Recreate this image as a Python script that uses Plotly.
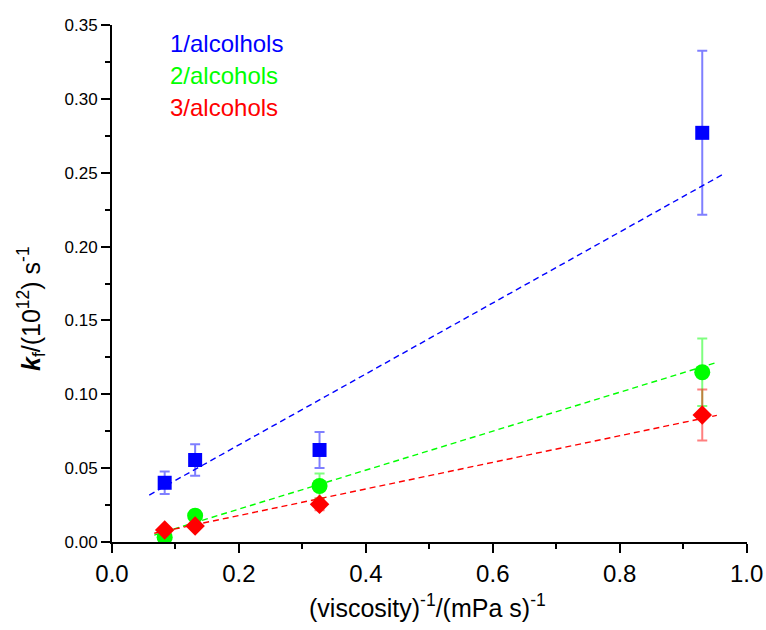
import plotly.graph_objects as go

# data
x_vals = [0.083, 0.131, 0.327, 0.930]
blue_y = [0.0401, 0.0555, 0.0623, 0.2770]
blue_err = [0.0076, 0.0107, 0.0122, 0.0555]
green_y = [0.0032, 0.0178, 0.0379, 0.1149]
green_err = [0.0010, 0.0015, 0.0085, 0.0228]
red_y = [0.0081, 0.0108, 0.0255, 0.0860]
red_err = [0.0010, 0.0015, 0.0040, 0.0173]

# fitted lines (end points)
blue_fit_x = [0.0587, 0.963]
blue_fit_y = [0.0318, 0.2490]
green_fit_x = [0.0666, 0.954]
green_fit_y = [0.0047, 0.1217]
red_fit_x = [0.0666, 0.953]
red_fit_y = [0.0059, 0.0857]

x_ticks = [0.0, 0.2, 0.4, 0.6, 0.8, 1.0]
y_ticks = [0.00, 0.05, 0.10, 0.15, 0.20, 0.25, 0.30, 0.35]

legend_labels = ["1/alcolhols", "2/alcohols", "3/alcohols"]
colors = ["#0000ff", "#00ff00", "#ff0000"]
err_colors = ["rgba(0,0,255,0.5)", "rgba(0,255,0,0.5)", "rgba(255,0,0,0.5)"]

fig = go.Figure()

for fx, fy, c in [(blue_fit_x, blue_fit_y, colors[0]),
                  (green_fit_x, green_fit_y, colors[1]),
                  (red_fit_x, red_fit_y, colors[2])]:
    fig.add_trace(go.Scatter(x=fx, y=fy, mode="lines",
                             line=dict(color=c, width=1.4, dash="6px,4px"),
                             showlegend=False, hoverinfo="skip"))

series = [(blue_y, blue_err, "square", 14),
          (green_y, green_err, "circle", 16),
          (red_y, red_err, "diamond", 15)]
for i, (yv, ev, sym, sz) in enumerate(series):
    fig.add_trace(go.Scatter(
        x=x_vals, y=yv, mode="markers",
        marker=dict(symbol=sym, size=sz, color=colors[i], line=dict(width=0)),
        error_y=dict(type="data", array=ev, visible=True, color=err_colors[i],
                     thickness=2, width=5),
        name=legend_labels[i], showlegend=False))

font_family = "Liberation Sans, Arial, sans-serif"
PW = 635.0
PH = 517.0

for i, lab in enumerate(legend_labels):
    fig.add_annotation(text=lab, xref="paper", yref="paper",
                       x=(168 - 112) / PW, y=(542 - (43 + 32 * i)) / PH,
                       xanchor="left", yanchor="middle", showarrow=False,
                       font=dict(family=font_family, size=24, color=colors[i]))

fig.add_annotation(text="<b><i>k</i></b><sub>f</sub>/(10<sup>12</sup>) s<sup>-1</sup>",
                   xref="paper", yref="paper", x=(31 - 112) / PW,
                   y=(542 - 308) / PH, textangle=-90, showarrow=False,
                   xanchor="center", yanchor="middle",
                   font=dict(family=font_family, size=25, color="black"))

fig.add_annotation(text="(viscosity)<sup>-1</sup>/(mPa s)<sup>-1</sup>",
                   xref="paper", yref="paper", x=(427 - 112) / PW,
                   y=(542 - 606) / PH, showarrow=False,
                   xanchor="center", yanchor="middle",
                   font=dict(family=font_family, size=25, color="black"))

fig.update_layout(
    width=766, height=630,
    margin=dict(l=112, r=19, t=25, b=88, autoexpand=False),
    plot_bgcolor="white", paper_bgcolor="white",
    font=dict(family=font_family, color="black"),
    xaxis=dict(range=[0, 1.0005], tickmode="array", tickvals=x_ticks,
               ticktext=[f"{v:.1f}" for v in x_ticks],
               ticklabeloverflow="allow", automargin=False,
               showgrid=False, zeroline=False,
               showline=True, linecolor="black", linewidth=2,
               ticks="outside", ticklen=9, tickwidth=2, tickcolor="black",
               tickfont=dict(size=24, family=font_family),
               minor=dict(tickmode="linear", tick0=0, dtick=0.1, ticks="outside",
                          ticklen=5, tickwidth=2, tickcolor="black", showgrid=False)),
    yaxis=dict(range=[0, 0.35], tickmode="array", tickvals=y_ticks,
               ticktext=[f"{v:.2f}" for v in y_ticks],
               automargin=False,
               showgrid=False, zeroline=False,
               showline=True, linecolor="black", linewidth=2,
               ticks="outside", ticklen=9, tickwidth=2, tickcolor="black",
               tickfont=dict(size=17, family=font_family),
               minor=dict(tickmode="linear", tick0=0, dtick=0.025, ticks="outside",
                          ticklen=5, tickwidth=2, tickcolor="black", showgrid=False)),
)

fig.write_html("out.html")
